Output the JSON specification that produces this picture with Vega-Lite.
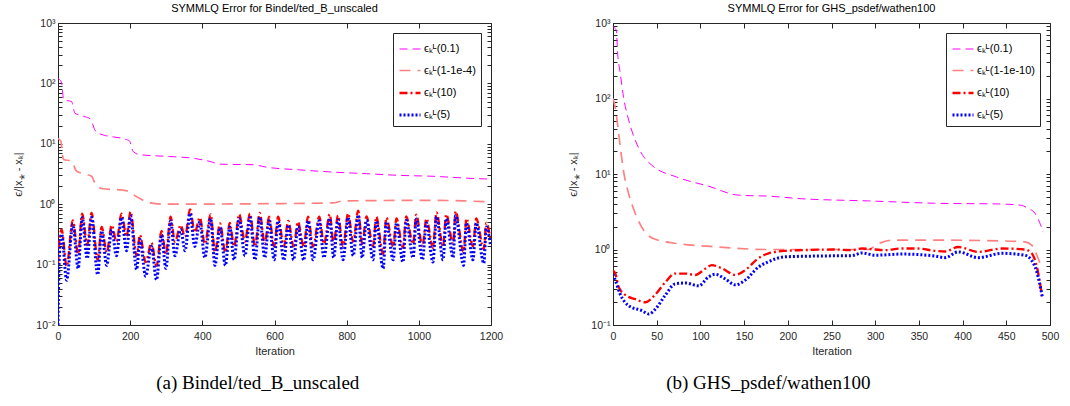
{
  "$schema": "https://vega.github.io/schema/vega-lite/v6.json",
  "background": "white",
  "padding": {"left": 12, "top": 2, "right": 5, "bottom": 5},
  "config": {
    "font": "Liberation Sans",
    "view": {"stroke": "#262626", "strokeWidth": 1},
    "axis": {"grid": false, "domainColor": "#262626", "tickColor": "#262626", "labelColor": "#262626", "labelFontSize": 10.5, "titleFontSize": 11, "titleFontWeight": "normal", "titleColor": "#262626", "labelFlush": false, "labelOverlap": false},
    "title": {"fontSize": 11, "fontWeight": "normal", "color": "black", "offset": 4},
    "legend": {"strokeColor": "#262626", "fillColor": "white", "padding": 5, "symbolType": "stroke", "symbolSize": 441, "labelFontSize": 11, "rowPadding": 5, "labelOffset": 2, "labelColor": "black"}
  },
  "datasets": {
    "a": [
      {"s":"0.1","i":0,"v":120},{"s":"0.1","i":5,"v":115},{"s":"0.1","i":10,"v":100},{"s":"0.1","i":13,"v":70},{"s":"0.1","i":15,"v":54},{"s":"0.1","i":25,"v":52},{"s":"0.1","i":38,"v":50},{"s":"0.1","i":43,"v":38},{"s":"0.1","i":47,"v":32},{"s":"0.1","i":60,"v":30},{"s":"0.1","i":75,"v":28},{"s":"0.1","i":89,"v":26},{"s":"0.1","i":95,"v":22},{"s":"0.1","i":102,"v":17},{"s":"0.1","i":112,"v":15},{"s":"0.1","i":125,"v":14},{"s":"0.1","i":153,"v":13},{"s":"0.1","i":185,"v":12},{"s":"0.1","i":199,"v":11},{"s":"0.1","i":204,"v":8.5},{"s":"0.1","i":209,"v":7.4},{"s":"0.1","i":227,"v":6.6},{"s":"0.1","i":301,"v":6.2},{"s":"0.1","i":380,"v":5.7},{"s":"0.1","i":421,"v":5.1},{"s":"0.1","i":449,"v":4.6},{"s":"0.1","i":541,"v":4.5},{"s":"0.1","i":578,"v":4.1},{"s":"0.1","i":670,"v":3.7},{"s":"0.1","i":762,"v":3.4},{"s":"0.1","i":855,"v":3.2},{"s":"0.1","i":947,"v":3.0},{"s":"0.1","i":1039,"v":2.9},{"s":"0.1","i":1131,"v":2.7},{"s":"0.1","i":1200,"v":2.6},
      {"s":"1-1e-4","i":0,"v":12.3},{"s":"1-1e-4","i":8,"v":11},{"s":"1-1e-4","i":12,"v":7},{"s":"1-1e-4","i":15,"v":5.5},{"s":"1-1e-4","i":38,"v":5.2},{"s":"1-1e-4","i":45,"v":4.2},{"s":"1-1e-4","i":50,"v":3.6},{"s":"1-1e-4","i":70,"v":3.2},{"s":"1-1e-4","i":93,"v":2.9},{"s":"1-1e-4","i":100,"v":2.4},{"s":"1-1e-4","i":106,"v":2.1},{"s":"1-1e-4","i":125,"v":1.8},{"s":"1-1e-4","i":181,"v":1.7},{"s":"1-1e-4","i":199,"v":1.6},{"s":"1-1e-4","i":212,"v":1.4},{"s":"1-1e-4","i":227,"v":1.24},{"s":"1-1e-4","i":255,"v":1.05},{"s":"1-1e-4","i":301,"v":1.0},{"s":"1-1e-4","i":578,"v":1.02},{"s":"1-1e-4","i":762,"v":1.05},{"s":"1-1e-4","i":790,"v":1.13},{"s":"1-1e-4","i":1039,"v":1.16},{"s":"1-1e-4","i":1131,"v":1.13},{"s":"1-1e-4","i":1200,"v":1.09},
      {"s":"10","i":0,"v":0.1},{"s":"10","i":3,"v":0.22},{"s":"10","i":10,"v":0.38},{"s":"10","i":24,"v":0.094},{"s":"10","i":41,"v":0.54},{"s":"10","i":56,"v":0.15},{"s":"10","i":67,"v":0.7},{"s":"10","i":81,"v":0.21},{"s":"10","i":93,"v":0.72},{"s":"10","i":110,"v":0.12},{"s":"10","i":121,"v":0.42},{"s":"10","i":135,"v":0.16},{"s":"10","i":149,"v":0.45},{"s":"10","i":162,"v":0.24},{"s":"10","i":176,"v":0.7},{"s":"10","i":190,"v":0.29},{"s":"10","i":201,"v":0.75},{"s":"10","i":218,"v":0.14},{"s":"10","i":227,"v":0.31},{"s":"10","i":243,"v":0.11},{"s":"10","i":259,"v":0.23},{"s":"10","i":273,"v":0.095},{"s":"10","i":287,"v":0.36},{"s":"10","i":299,"v":0.15},{"s":"10","i":312,"v":0.62},{"s":"10","i":324,"v":0.24},{"s":"10","i":340,"v":0.45},{"s":"10","i":352,"v":0.29},{"s":"10","i":366,"v":0.82},{"s":"10","i":379,"v":0.34},{"s":"10","i":393,"v":0.6},{"s":"10","i":407,"v":0.22},{"s":"10","i":423,"v":0.68},{"s":"10","i":435,"v":0.16},{"s":"10","i":449,"v":0.48},{"s":"10","i":464,"v":0.16},{"s":"10","i":476,"v":0.49},{"s":"10","i":488,"v":0.2},{"s":"10","i":502,"v":0.68},{"s":"10","i":518,"v":0.24},{"s":"10","i":532,"v":0.7},{"s":"10","i":546,"v":0.2},{"s":"10","i":559,"v":0.72},{"s":"10","i":573,"v":0.22},{"s":"10","i":585,"v":0.62},{"s":"10","i":599,"v":0.2},{"s":"10","i":610,"v":0.62},{"s":"10","i":626,"v":0.2},{"s":"10","i":638,"v":0.53},{"s":"10","i":653,"v":0.2},{"s":"10","i":665,"v":0.51},{"s":"10","i":681,"v":0.2},{"s":"10","i":693,"v":0.62},{"s":"10","i":707,"v":0.2},{"s":"10","i":724,"v":0.62},{"s":"10","i":737,"v":0.22},{"s":"10","i":753,"v":0.68},{"s":"10","i":764,"v":0.22},{"s":"10","i":776,"v":0.65},{"s":"10","i":790,"v":0.2},{"s":"10","i":804,"v":0.7},{"s":"10","i":818,"v":0.24},{"s":"10","i":832,"v":0.78},{"s":"10","i":843,"v":0.22},{"s":"10","i":855,"v":0.63},{"s":"10","i":873,"v":0.2},{"s":"10","i":882,"v":0.62},{"s":"10","i":901,"v":0.15},{"s":"10","i":910,"v":0.6},{"s":"10","i":929,"v":0.2},{"s":"10","i":938,"v":0.58},{"s":"10","i":956,"v":0.19},{"s":"10","i":965,"v":0.63},{"s":"10","i":984,"v":0.22},{"s":"10","i":993,"v":0.67},{"s":"10","i":1010,"v":0.2},{"s":"10","i":1021,"v":0.58},{"s":"10","i":1039,"v":0.19},{"s":"10","i":1049,"v":0.73},{"s":"10","i":1067,"v":0.2},{"s":"10","i":1076,"v":0.68},{"s":"10","i":1095,"v":0.22},{"s":"10","i":1102,"v":0.76},{"s":"10","i":1124,"v":0.16},{"s":"10","i":1132,"v":0.58},{"s":"10","i":1150,"v":0.2},{"s":"10","i":1159,"v":0.58},{"s":"10","i":1180,"v":0.18},{"s":"10","i":1187,"v":0.49},{"s":"10","i":1199,"v":0.25},
      {"s":"5","i":0,"v":0.01},{"s":"5","i":2,"v":0.06},{"s":"5","i":4,"v":0.15},{"s":"5","i":10,"v":0.32},{"s":"5","i":24,"v":0.055},{"s":"5","i":41,"v":0.46},{"s":"5","i":56,"v":0.086},{"s":"5","i":67,"v":0.6},{"s":"5","i":81,"v":0.126},{"s":"5","i":93,"v":0.61},{"s":"5","i":110,"v":0.068},{"s":"5","i":121,"v":0.36},{"s":"5","i":135,"v":0.097},{"s":"5","i":149,"v":0.38},{"s":"5","i":162,"v":0.14},{"s":"5","i":176,"v":0.6},{"s":"5","i":190,"v":0.17},{"s":"5","i":201,"v":0.64},{"s":"5","i":218,"v":0.083},{"s":"5","i":227,"v":0.26},{"s":"5","i":243,"v":0.064},{"s":"5","i":259,"v":0.2},{"s":"5","i":273,"v":0.056},{"s":"5","i":287,"v":0.31},{"s":"5","i":299,"v":0.086},{"s":"5","i":312,"v":0.53},{"s":"5","i":324,"v":0.14},{"s":"5","i":340,"v":0.38},{"s":"5","i":352,"v":0.17},{"s":"5","i":366,"v":0.7},{"s":"5","i":379,"v":0.2},{"s":"5","i":393,"v":0.51},{"s":"5","i":407,"v":0.13},{"s":"5","i":423,"v":0.58},{"s":"5","i":435,"v":0.097},{"s":"5","i":449,"v":0.41},{"s":"5","i":464,"v":0.097},{"s":"5","i":476,"v":0.42},{"s":"5","i":488,"v":0.12},{"s":"5","i":502,"v":0.58},{"s":"5","i":518,"v":0.14},{"s":"5","i":532,"v":0.6},{"s":"5","i":546,"v":0.12},{"s":"5","i":559,"v":0.61},{"s":"5","i":573,"v":0.13},{"s":"5","i":585,"v":0.53},{"s":"5","i":599,"v":0.12},{"s":"5","i":610,"v":0.53},{"s":"5","i":626,"v":0.118},{"s":"5","i":638,"v":0.45},{"s":"5","i":653,"v":0.12},{"s":"5","i":665,"v":0.43},{"s":"5","i":681,"v":0.118},{"s":"5","i":693,"v":0.53},{"s":"5","i":707,"v":0.12},{"s":"5","i":724,"v":0.53},{"s":"5","i":737,"v":0.13},{"s":"5","i":753,"v":0.58},{"s":"5","i":764,"v":0.13},{"s":"5","i":776,"v":0.55},{"s":"5","i":790,"v":0.12},{"s":"5","i":804,"v":0.6},{"s":"5","i":818,"v":0.14},{"s":"5","i":832,"v":0.66},{"s":"5","i":843,"v":0.13},{"s":"5","i":855,"v":0.54},{"s":"5","i":873,"v":0.12},{"s":"5","i":882,"v":0.53},{"s":"5","i":901,"v":0.086},{"s":"5","i":910,"v":0.51},{"s":"5","i":929,"v":0.12},{"s":"5","i":938,"v":0.49},{"s":"5","i":956,"v":0.11},{"s":"5","i":965,"v":0.54},{"s":"5","i":984,"v":0.13},{"s":"5","i":993,"v":0.57},{"s":"5","i":1010,"v":0.12},{"s":"5","i":1021,"v":0.49},{"s":"5","i":1039,"v":0.11},{"s":"5","i":1049,"v":0.62},{"s":"5","i":1067,"v":0.12},{"s":"5","i":1076,"v":0.58},{"s":"5","i":1095,"v":0.13},{"s":"5","i":1102,"v":0.65},{"s":"5","i":1124,"v":0.097},{"s":"5","i":1132,"v":0.49},{"s":"5","i":1150,"v":0.12},{"s":"5","i":1159,"v":0.49},{"s":"5","i":1180,"v":0.105},{"s":"5","i":1187,"v":0.42},{"s":"5","i":1199,"v":0.2}
    ],
    "b": [
      {"s":"0.1","i":0,"v":900},{"s":"0.1","i":2,"v":850},{"s":"0.1","i":3.8,"v":810},{"s":"0.1","i":5.3,"v":400},{"s":"0.1","i":8.3,"v":216},{"s":"0.1","i":12,"v":105},{"s":"0.1","i":17.9,"v":52},{"s":"0.1","i":25.5,"v":28},{"s":"0.1","i":35,"v":17},{"s":"0.1","i":44.6,"v":13},{"s":"0.1","i":73,"v":9.1},{"s":"0.1","i":111,"v":6.8},{"s":"0.1","i":140,"v":5.3},{"s":"0.1","i":149,"v":5.2},{"s":"0.1","i":176,"v":5.1},{"s":"0.1","i":216,"v":4.7},{"s":"0.1","i":292,"v":4.4},{"s":"0.1","i":368,"v":4.1},{"s":"0.1","i":445,"v":4.0},{"s":"0.1","i":467,"v":3.85},{"s":"0.1","i":475,"v":3.5},{"s":"0.1","i":483,"v":3.0},{"s":"0.1","i":488,"v":2.3},{"s":"0.1","i":492,"v":1.7},
      {"s":"1-1e-10","i":0,"v":100},{"s":"1-1e-10","i":1.5,"v":87},{"s":"1-1e-10","i":4.6,"v":52},{"s":"1-1e-10","i":8.3,"v":23},{"s":"1-1e-10","i":12,"v":11},{"s":"1-1e-10","i":17.9,"v":5.5},{"s":"1-1e-10","i":25.5,"v":3.0},{"s":"1-1e-10","i":35,"v":1.8},{"s":"1-1e-10","i":46,"v":1.4},{"s":"1-1e-10","i":73,"v":1.2},{"s":"1-1e-10","i":111,"v":1.1},{"s":"1-1e-10","i":176,"v":1.0},{"s":"1-1e-10","i":292,"v":1.0},{"s":"1-1e-10","i":304,"v":1.2},{"s":"1-1e-10","i":319,"v":1.33},{"s":"1-1e-10","i":368,"v":1.33},{"s":"1-1e-10","i":445,"v":1.3},{"s":"1-1e-10","i":471,"v":1.26},{"s":"1-1e-10","i":479,"v":1.14},{"s":"1-1e-10","i":485,"v":0.84},{"s":"1-1e-10","i":490,"v":0.59},
      {"s":"10","i":0,"v":0.53},{"s":"10","i":2.7,"v":0.48},{"s":"10","i":6.5,"v":0.32},{"s":"10","i":14,"v":0.25},{"s":"10","i":25.5,"v":0.22},{"s":"10","i":37,"v":0.2},{"s":"10","i":48,"v":0.25},{"s":"10","i":60,"v":0.37},{"s":"10","i":71,"v":0.48},{"s":"10","i":83,"v":0.48},{"s":"10","i":94,"v":0.46},{"s":"10","i":106,"v":0.56},{"s":"10","i":113,"v":0.62},{"s":"10","i":125,"v":0.56},{"s":"10","i":140,"v":0.46},{"s":"10","i":151,"v":0.53},{"s":"10","i":166,"v":0.76},{"s":"10","i":178,"v":0.89},{"s":"10","i":197,"v":0.96},{"s":"10","i":216,"v":0.98},{"s":"10","i":254,"v":1.0},{"s":"10","i":273,"v":0.98},{"s":"10","i":285,"v":1.03},{"s":"10","i":300,"v":1.0},{"s":"10","i":311,"v":0.98},{"s":"10","i":330,"v":1.03},{"s":"10","i":349,"v":1.03},{"s":"10","i":368,"v":0.96},{"s":"10","i":380,"v":0.94},{"s":"10","i":395,"v":1.08},{"s":"10","i":418,"v":0.93},{"s":"10","i":445,"v":1.03},{"s":"10","i":471,"v":1.0},{"s":"10","i":479,"v":0.89},{"s":"10","i":485,"v":0.59},{"s":"10","i":488,"v":0.39},{"s":"10","i":491,"v":0.24},
      {"s":"5","i":0,"v":0.47},{"s":"5","i":2.7,"v":0.39},{"s":"5","i":8,"v":0.26},{"s":"5","i":18,"v":0.18},{"s":"5","i":33,"v":0.155},{"s":"5","i":41,"v":0.14},{"s":"5","i":48,"v":0.16},{"s":"5","i":60,"v":0.25},{"s":"5","i":71,"v":0.35},{"s":"5","i":83,"v":0.36},{"s":"5","i":98,"v":0.33},{"s":"5","i":109,"v":0.43},{"s":"5","i":117,"v":0.47},{"s":"5","i":128,"v":0.41},{"s":"5","i":140,"v":0.34},{"s":"5","i":151,"v":0.39},{"s":"5","i":166,"v":0.58},{"s":"5","i":178,"v":0.69},{"s":"5","i":197,"v":0.8},{"s":"5","i":235,"v":0.82},{"s":"5","i":273,"v":0.83},{"s":"5","i":285,"v":0.9},{"s":"5","i":300,"v":0.84},{"s":"5","i":330,"v":0.87},{"s":"5","i":368,"v":0.82},{"s":"5","i":380,"v":0.78},{"s":"5","i":395,"v":0.93},{"s":"5","i":418,"v":0.78},{"s":"5","i":445,"v":0.89},{"s":"5","i":471,"v":0.84},{"s":"5","i":479,"v":0.72},{"s":"5","i":485,"v":0.5},{"s":"5","i":488,"v":0.36},{"s":"5","i":491,"v":0.24}
    ]
  },
  "spacing": 63,
  "resolve": {"scale": {"color": "independent", "strokeDash": "independent", "strokeWidth": "independent"}, "legend": {"color": "independent", "strokeDash": "independent", "strokeWidth": "independent"}},
  "hconcat": [
    {
      "title": {"text": "(a) Bindel/ted_B_unscaled", "orient": "bottom", "anchor": "middle", "font": "Liberation Serif", "fontSize": 19, "offset": 17, "color": "black"},
      "resolve": {"scale": {"color": "independent", "strokeDash": "independent", "strokeWidth": "independent"}, "legend": {"color": "independent", "strokeDash": "independent", "strokeWidth": "independent"}},
      "vconcat": [
        {
          "title": "SYMMLQ Error for Bindel/ted_B_unscaled",
          "width": 433, "height": 302,
          "data": {"name": "a"},
          "layer": [
            {
              "mark": {"type": "line", "clip": true, "interpolate": "monotone"},
              "encoding": {
                "x": {"field": "i", "type": "quantitative", "scale": {"domain": [0, 1200], "nice": false, "zero": false},
                      "axis": {"values": [0,200,400,600,800,1000,1200], "format": "d", "title": "Iteration", "tickSize": -5, "labelPadding": 11, "titlePadding": 4, "domain": false}},
                "y": {"field": "v", "type": "quantitative", "scale": {"type": "log", "domain": [0.01, 1000], "nice": false},
                      "axis": {"title": "ϵ/|x⁎ - xₖ|", "domain": false, "tickSize": -4, "labelPadding": 7, "titlePadding": 12,
                               "values": [0.01,0.02,0.03,0.04,0.05,0.06,0.07,0.08,0.09,0.1,0.2,0.3,0.4,0.5,0.6,0.7,0.8,0.9,1,2,3,4,5,6,7,8,9,10,20,30,40,50,60,70,80,90,100,200,300,400,500,600,700,800,900,1000],
                               "labelExpr": "abs(log(datum.value)/LN10 - round(log(datum.value)/LN10)) < 0.001 ? (datum.value > 500 ? '10³' : datum.value > 50 ? '10²' : datum.value > 5 ? '10¹' : datum.value > 0.5 ? '10⁰' : datum.value > 0.05 ? '10⁻¹' : '10⁻²') : ''"}},
                "color": {"field": "s", "type": "nominal", "scale": {"domain": ["0.1","1-1e-4","10","5"], "range": ["#ff00ff","#ff8080","#ff0000","#0000ff"]}, "legend": {"title": null, "orient": "top-right", "offset": 10, "labelExpr": "'ϵₖᴸ(' + datum.label + ')'"}},
                "strokeDash": {"field": "s", "type": "nominal", "scale": {"domain": ["0.1","1-1e-4","10","5"], "range": [[8,5],[11,7],[8,3,2,3],[2,2]]}, "legend": {"title": null, "orient": "top-right", "offset": 10, "labelExpr": "'ϵₖᴸ(' + datum.label + ')'"}},
                "strokeWidth": {"field": "s", "type": "nominal", "scale": {"domain": ["0.1","1-1e-4","10","5"], "range": [1,3,2.5,2.5]}, "legend": {"title": null, "orient": "top-right", "offset": 10, "labelExpr": "'ϵₖᴸ(' + datum.label + ')'"}}
              }
            },
            {
              "transform": [{"filter": "false"}],
              "mark": {"type": "line"},
              "encoding": {
                "x": {"field": "i", "type": "quantitative", "axis": {"orient": "top", "values": [0,200,400,600,800,1000,1200], "labels": false, "title": null, "tickSize": -5, "domain": false}},
                "y": {"field": "v", "type": "quantitative", "axis": {"orient": "right", "labels": false, "title": null, "tickSize": -4, "domain": false,
                      "values": [0.01,0.02,0.03,0.04,0.05,0.06,0.07,0.08,0.09,0.1,0.2,0.3,0.4,0.5,0.6,0.7,0.8,0.9,1,2,3,4,5,6,7,8,9,10,20,30,40,50,60,70,80,90,100,200,300,400,500,600,700,800,900,1000]}}
              }
            }
          ],
          "resolve": {"axis": {"x": "independent", "y": "independent"}}
        }
      ]
    },
    {
      "title": {"text": "(b) GHS_psdef/wathen100", "orient": "bottom", "anchor": "middle", "font": "Liberation Serif", "fontSize": 19, "offset": 17, "color": "black", "dx": -45},
      "resolve": {"scale": {"color": "independent", "strokeDash": "independent", "strokeWidth": "independent"}, "legend": {"color": "independent", "strokeDash": "independent", "strokeWidth": "independent"}},
      "vconcat": [
        {
          "title": "SYMMLQ Error for GHS_psdef/wathen100",
          "width": 437, "height": 302,
          "data": {"name": "b"},
          "layer": [
            {
              "mark": {"type": "line", "clip": true, "interpolate": "monotone"},
              "encoding": {
                "x": {"field": "i", "type": "quantitative", "scale": {"domain": [0, 500], "nice": false, "zero": false},
                      "axis": {"values": [0,50,100,150,200,250,300,350,400,450,500], "format": "d", "title": "Iteration", "tickSize": -5, "labelPadding": 11, "titlePadding": 4, "domain": false}},
                "y": {"field": "v", "type": "quantitative", "scale": {"type": "log", "domain": [0.1, 1000], "nice": false},
                      "axis": {"title": "ϵ/|x⁎ - xₖ|", "domain": false, "tickSize": -4, "labelPadding": 7, "titlePadding": 12,
                               "values": [0.1,0.2,0.3,0.4,0.5,0.6,0.7,0.8,0.9,1,2,3,4,5,6,7,8,9,10,20,30,40,50,60,70,80,90,100,200,300,400,500,600,700,800,900,1000],
                               "labelExpr": "abs(log(datum.value)/LN10 - round(log(datum.value)/LN10)) < 0.001 ? (datum.value > 500 ? '10³' : datum.value > 50 ? '10²' : datum.value > 5 ? '10¹' : datum.value > 0.5 ? '10⁰' : datum.value > 0.05 ? '10⁻¹' : '10⁻²') : ''"}},
                "color": {"field": "s", "type": "nominal", "scale": {"domain": ["0.1","1-1e-10","10","5"], "range": ["#ff00ff","#ff8080","#ff0000","#0000ff"]}, "legend": {"title": null, "orient": "top-right", "offset": 10, "labelExpr": "'ϵₖᴸ(' + datum.label + ')'"}},
                "strokeDash": {"field": "s", "type": "nominal", "scale": {"domain": ["0.1","1-1e-10","10","5"], "range": [[8,5],[11,7],[8,3,2,3],[2,2]]}, "legend": {"title": null, "orient": "top-right", "offset": 10, "labelExpr": "'ϵₖᴸ(' + datum.label + ')'"}},
                "strokeWidth": {"field": "s", "type": "nominal", "scale": {"domain": ["0.1","1-1e-10","10","5"], "range": [1,3,2.5,2.5]}, "legend": {"title": null, "orient": "top-right", "offset": 10, "labelExpr": "'ϵₖᴸ(' + datum.label + ')'"}}
              }
            },
            {
              "transform": [{"filter": "false"}],
              "mark": {"type": "line"},
              "encoding": {
                "x": {"field": "i", "type": "quantitative", "axis": {"orient": "top", "values": [0,50,100,150,200,250,300,350,400,450,500], "labels": false, "title": null, "tickSize": -5, "domain": false}},
                "y": {"field": "v", "type": "quantitative", "axis": {"orient": "right", "labels": false, "title": null, "tickSize": -4, "domain": false,
                      "values": [0.1,0.2,0.3,0.4,0.5,0.6,0.7,0.8,0.9,1,2,3,4,5,6,7,8,9,10,20,30,40,50,60,70,80,90,100,200,300,400,500,600,700,800,900,1000]}}
              }
            }
          ],
          "resolve": {"axis": {"x": "independent", "y": "independent"}}
        }
      ]
    }
  ]
}
